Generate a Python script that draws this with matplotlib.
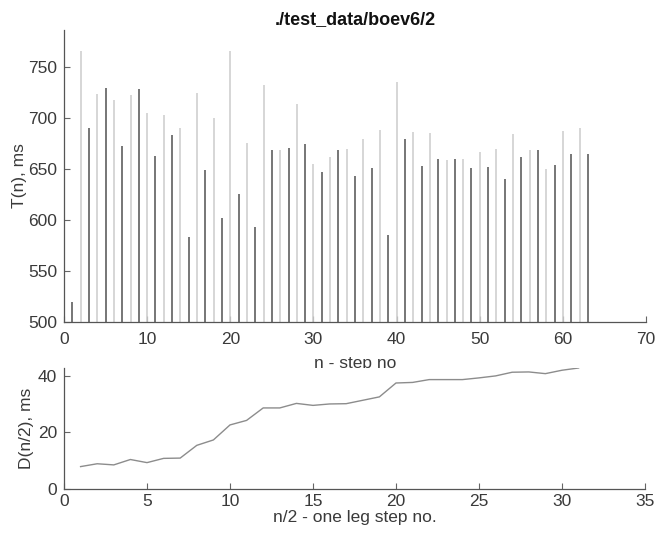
import numpy as np
import matplotlib.pyplot as plt

plt.rcParams['font.family'] = ['Liberation Sans', 'DejaVu Sans']

# step times T(n), ms, n = 1..63
step_no = np.arange(1, 64)
step_time = [520, 765, 690, 723, 729, 717, 672, 722, 728, 705,
             663, 703, 683, 690, 583, 724, 649, 700, 602, 765,
             625, 675, 593, 732, 668, 668, 670, 714, 674, 655,
             647, 662, 668, 669, 643, 679, 651, 688, 585, 735,
             679, 686, 653, 685, 660, 659, 660, 660, 651, 667,
             652, 669, 640, 684, 662, 668, 668, 650, 654, 687,
             665, 690, 665]

# D(n/2), ms, for one leg
leg_step_no = np.arange(1, 32)
leg_d = [7.9, 8.9, 8.5, 10.4, 9.3, 10.8, 10.9, 15.4, 17.3, 22.6,
         24.2, 28.6, 28.6, 30.2, 29.5, 30.0, 30.1, 31.3, 32.5, 37.4,
         37.6, 38.6, 38.6, 38.6, 39.2, 39.9, 41.2, 41.3, 40.7, 41.9, 42.7]

txt = '#3a3a3a'
fs = 12.5
fig = plt.figure(figsize=(6.57, 5.39), dpi=100)
ax1 = fig.add_axes([0.0974, 0.4026, 0.886, 0.5417])
ax2 = fig.add_axes([0.0974, 0.0928, 0.8843, 0.2245])

def style(ax, xpad):
    for s in ['top', 'right']:
        ax.spines[s].set_visible(False)
    for s in ['left', 'bottom']:
        ax.spines[s].set_color('#555555')
        ax.spines[s].set_linewidth(0.9)
    ax.tick_params(direction='in', length=4, width=0.8, colors='#666666',
                   labelcolor=txt, labelsize=fs)
    ax.tick_params(axis='y', pad=5)
    ax.tick_params(axis='x', pad=xpad)

# odd steps dark, even steps light
t = np.array(step_time)
odd = step_no % 2 == 1
ax1.vlines(step_no[~odd], 500, t[~odd], color='#cfcfcf', linewidth=1.2)
ax1.vlines(step_no[odd], 500, t[odd], color='#5f5f5f', linewidth=1.2)
ax1.set_xlim(0, 70)
ax1.set_ylim(500, 786)
ax1.set_xticks(range(0, 71, 10))
ax1.set_yticks(range(500, 751, 50))
ax1.set_ylabel('T(n), ms', fontsize=fs, color=txt, labelpad=1)
# lower part of this label ends up under the second axes
ax1.set_xlabel('n - step no', fontsize=fs, color=txt, labelpad=6.5)
ax1.set_title('./test_data/boev6/2', fontsize=13, fontweight='bold',
              color='#111111', pad=4)
style(ax1, 7)

ax2.plot(leg_step_no, leg_d, color='#8c8c8c', linewidth=1.0)
ax2.set_xlim(0, 35)
ax2.set_ylim(0, max(leg_d))
ax2.set_xticks(range(0, 36, 5))
ax2.set_yticks([0, 20, 40])
ax2.set_ylabel('D(n/2), ms', fontsize=fs, color=txt, labelpad=3)
ax2.set_xlabel('n/2 - one leg step no.', fontsize=fs, color=txt, labelpad=1)
ax2.patch.set_facecolor('white')
style(ax2, 3.5)

fig.savefig('out.png', dpi=100)
